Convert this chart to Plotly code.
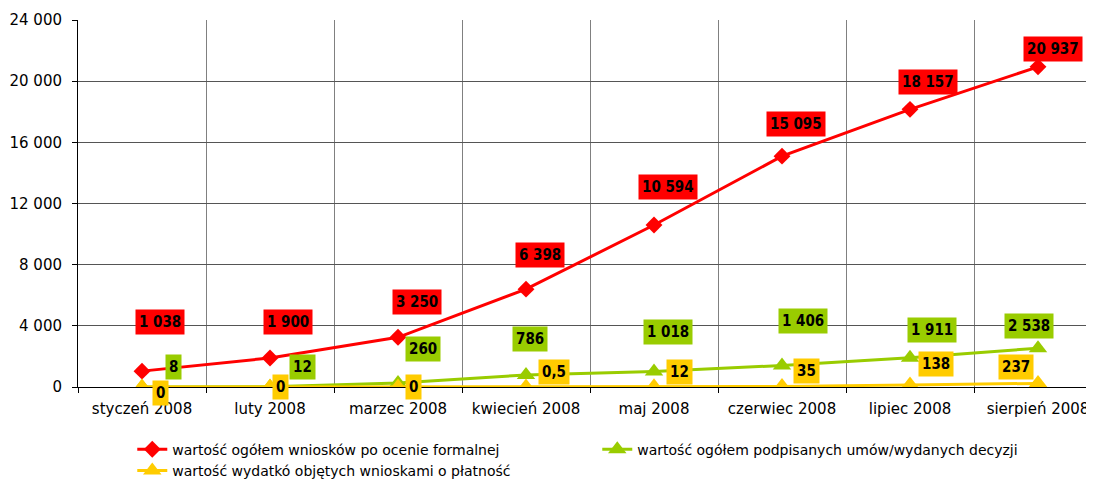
import plotly.graph_objects as go

months = ["styczeń 2008", "luty 2008", "marzec 2008", "kwiecień 2008",
          "maj 2008", "czerwiec 2008", "lipiec 2008", "sierpień 2008"]
wnioski = [1038, 1900, 3250, 6398, 10594, 15095, 18157, 20937]
umowy = [8, 12, 260, 786, 1018, 1406, 1911, 2538]
wydatki = [0, 0, 0, 0.5, 12, 35, 138, 237]

names = ["wartość ogółem wniosków po ocenie formalnej",
         "wartość ogółem podpisanych umów/wydanych decyzji",
         "wartość wydatkó objętych wnioskami o płatność"]

RED, GREEN, YELLOW = "#FF0000", "#99CC00", "#FFCC00"

# label pixel offsets (style, not data)
off_red = [(18, 49), (18, 36), (19, 35), (14, 34), (14, 38), (14, 32), (18, 27), (15, 18)]
off_green = [(31, 20), (32, 20), (25, 34), (4, 36), (14, 39), (21, 45), (22, 28), (-9, 22)]
off_yellow = [(18, -6), (10, 0), (15, 0), (28, 15), (25, 15), (24, 15), (26, 21), (-22, 16)]


def fmt(v):
    if float(v).is_integer():
        return f"{int(v):,}".replace(",", " ")
    return str(v).replace(".", ",")


fig = go.Figure()
fig.add_trace(go.Scatter(x=months, y=wnioski, name=names[0], mode="lines+markers",
                         line=dict(color=RED, width=3),
                         marker=dict(symbol="diamond", size=13, color=RED)))
fig.add_trace(go.Scatter(x=months, y=umowy, name=names[1], mode="lines+markers",
                         line=dict(color=GREEN, width=3),
                         marker=dict(symbol="triangle-up", size=16, color=GREEN)))
fig.add_trace(go.Scatter(x=months, y=wydatki, name=names[2], mode="lines+markers",
                         line=dict(color=YELLOW, width=3),
                         marker=dict(symbol="triangle-up", size=17, color=YELLOW)))

annotations = []
for vals, offs, col in [(wnioski, off_red, RED), (umowy, off_green, GREEN), (wydatki, off_yellow, YELLOW)]:
    for m, v, (dx, dy) in zip(months, vals, offs):
        annotations.append(dict(x=m, y=v, xref="x", yref="y", text="<b>" + fmt(v) + "</b>",
                                showarrow=False, xshift=dx, yshift=dy, bgcolor=col,
                                borderpad=3,
                                font=dict(family="DejaVu Sans Condensed, DejaVu Sans", size=15, color="black")))

fig.update_layout(
    width=1094, height=485,
    margin=dict(l=70, r=0, t=12, b=106, autoexpand=False),
    paper_bgcolor="white", plot_bgcolor="white",
    separators=", ",
    font=dict(family="DejaVu Sans", size=15, color="black"),
    annotations=annotations,
    showlegend=True,
    legend=dict(orientation="h", x=0.053, xanchor="left", y=-0.127, yanchor="top",
                entrywidth=420, entrywidthmode="pixels", font=dict(size=14),
                itemwidth=30, tracegroupgap=0, bgcolor="rgba(0,0,0,0)"),
    xaxis=dict(type="category", range=[-0.5, 7.5], tickson="boundaries",
               showgrid=True, gridcolor="#808080", gridwidth=1,
               showline=True, linecolor="black", linewidth=1,
               ticks="outside", ticklen=5, tickcolor="black", fixedrange=True,
               ticklabelstandoff=8),
    yaxis=dict(range=[0, 24000], dtick=4000, tickformat=",.0f",
               showgrid=True, gridcolor="#555555", gridwidth=1,
               showline=True, linecolor="black", linewidth=1,
               ticks="outside", ticklen=5, tickcolor="black", zeroline=False,
               ticklabelstandoff=7),
)

fig.write_html("out.html")
